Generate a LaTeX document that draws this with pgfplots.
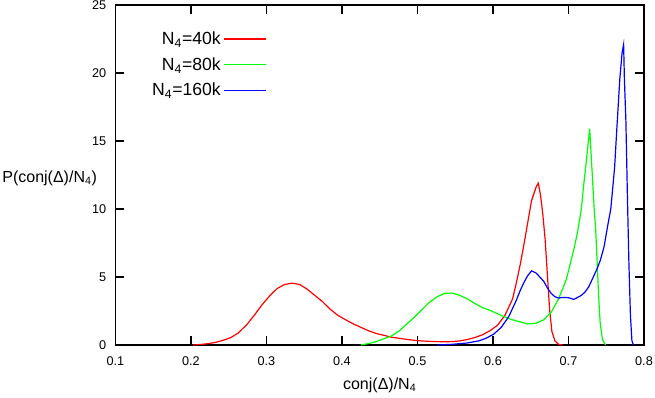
\documentclass[border=0pt]{standalone}
\usepackage{fontspec}
\setmainfont{Liberation Sans}
\usepackage{pgfplots}
\pgfplotsset{compat=1.18}

\definecolor{gpred}{RGB}{255,0,0}
\definecolor{gpgreen}{RGB}{0,255,0}
\definecolor{gpblue}{RGB}{0,0,255}

\begin{document}
\begin{tikzpicture}
\begin{axis}[
    scale only axis,
    width=396.4pt, height=255pt,
    xmin=0.1, xmax=0.8, ymin=0, ymax=25,
    xtick={0.1,0.2,0.3,0.4,0.5,0.6,0.7,0.8},
    ytick={0,5,10,15,20,25},
    tick align=inside, tick pos=both,
    major tick length=6.5pt,
    axis line style={line width=0.9pt},
    every tick/.style={black, line width=0.9pt},
    /pgf/number format/assume math mode=true,
    ticklabel style={font=\fontsize{9.5}{11}\selectfont},
    xticklabel style={/pgf/number format/fixed, /pgf/number format/fixed zerofill,
        /pgf/number format/precision=1, yshift=-5pt},
    yticklabel style={xshift=-3.5pt},
    label style={font=\fontsize{12}{14}\selectfont},
    xlabel={conj(Δ)/N\textsubscript{4}},
    xlabel style={at={(axis description cs:0.5,-0.1176)}, anchor=center},
    ylabel={P(conj(Δ)/N\textsubscript{4})},
    ylabel style={rotate=-90, at={(axis description cs:-0.026,0.49)}, anchor=east},
    legend plot pos=right,
    legend cell align=right,
    legend image code/.code={\draw[#1] (4.5pt,0pt) -- (36pt,0pt);},
    legend style={at={(axis description cs:0.294,0.938)}, anchor=north east,
        draw=none, fill=none, font=\fontsize{13.2}{15}\selectfont,
        row sep=4.2pt},
]
% N4 = 40k
\addplot[gpred, line width=0.9pt] coordinates {
(0.203,0) (0.213,0.04) (0.223,0.1) (0.233,0.2) (0.243,0.35) (0.253,0.55)
(0.263,0.9) (0.274,1.5) (0.284,2.2) (0.294,2.95) (0.304,3.6) (0.314,4.15)
(0.324,4.45) (0.334,4.55) (0.344,4.45) (0.354,4.1) (0.364,3.65) (0.374,3.2)
(0.384,2.65) (0.394,2.2) (0.405,1.85) (0.415,1.55) (0.425,1.3) (0.435,1.05)
(0.445,0.85) (0.455,0.72) (0.465,0.58) (0.475,0.5) (0.485,0.42) (0.495,0.35)
(0.505,0.3) (0.515,0.27) (0.526,0.25) (0.536,0.24) (0.546,0.25) (0.556,0.3)
(0.566,0.4) (0.576,0.55) (0.586,0.75) (0.596,1.05) (0.606,1.45) (0.616,2.2)
(0.626,3.4) (0.631,4.6) (0.636,5.9) (0.641,7.4) (0.646,9.0) (0.651,10.6)
(0.657,11.6) (0.660,11.9) (0.663,11.0) (0.666,9.6) (0.669,7.8) (0.672,5.2)
(0.675,2.6) (0.678,1.0) (0.682,0.3) (0.687,0.05) (0.692,0)
};
\addlegendentry{N\textsubscript{4}=40k}
% N4 = 80k
\addplot[gpgreen, line width=0.9pt] coordinates {
(0.425,0) (0.435,0.1) (0.445,0.25) (0.455,0.45) (0.465,0.65) (0.475,1.0)
(0.485,1.5) (0.495,2.0) (0.505,2.55) (0.515,3.1) (0.526,3.55) (0.536,3.8)
(0.546,3.82) (0.556,3.65) (0.566,3.4) (0.576,3.05) (0.586,2.75) (0.596,2.55)
(0.606,2.3) (0.616,2.05) (0.626,1.85) (0.636,1.7) (0.646,1.55) (0.657,1.6)
(0.667,1.85) (0.677,2.4) (0.687,3.4) (0.697,4.8) (0.702,5.9) (0.707,7.0)
(0.712,8.3) (0.717,10.0) (0.720,11.7) (0.724,13.7) (0.728,15.9) (0.730,14.0)
(0.732,12.0) (0.734,10.0) (0.736,8.5) (0.738,6.0) (0.740,3.5) (0.742,1.6)
(0.745,0.4) (0.749,0)
};
\addlegendentry{N\textsubscript{4}=80k}
% N4 = 160k
\addplot[gpblue, line width=0.9pt] coordinates {
(0.526,0) (0.546,0.05) (0.566,0.15) (0.581,0.3) (0.591,0.5) (0.601,0.8)
(0.611,1.3) (0.621,2.1) (0.626,2.7) (0.631,3.3) (0.636,4.0) (0.641,4.6)
(0.646,5.1) (0.651,5.45) (0.657,5.3) (0.662,5.0) (0.667,4.7) (0.672,4.2)
(0.677,3.8) (0.682,3.55) (0.687,3.45) (0.692,3.5) (0.697,3.5) (0.702,3.45)
(0.707,3.35) (0.712,3.5) (0.717,3.65) (0.722,3.9) (0.727,4.3) (0.732,4.9)
(0.737,5.5) (0.742,6.2) (0.747,7.2) (0.752,8.8) (0.756,10.0) (0.761,13.0)
(0.764,15.9) (0.768,19.6) (0.771,21.5) (0.773,22.1) (0.774,19.6) (0.776,16.5)
(0.778,11.0) (0.780,6.0) (0.782,2.2) (0.784,0.3) (0.786,0)
};
\addlegendentry{N\textsubscript{4}=160k}
\end{axis}
\pgfresetboundingbox
\path[use as bounding box] (-86.6pt,-39pt) rectangle (404.65pt,258.75pt);
\end{tikzpicture}
\end{document}
